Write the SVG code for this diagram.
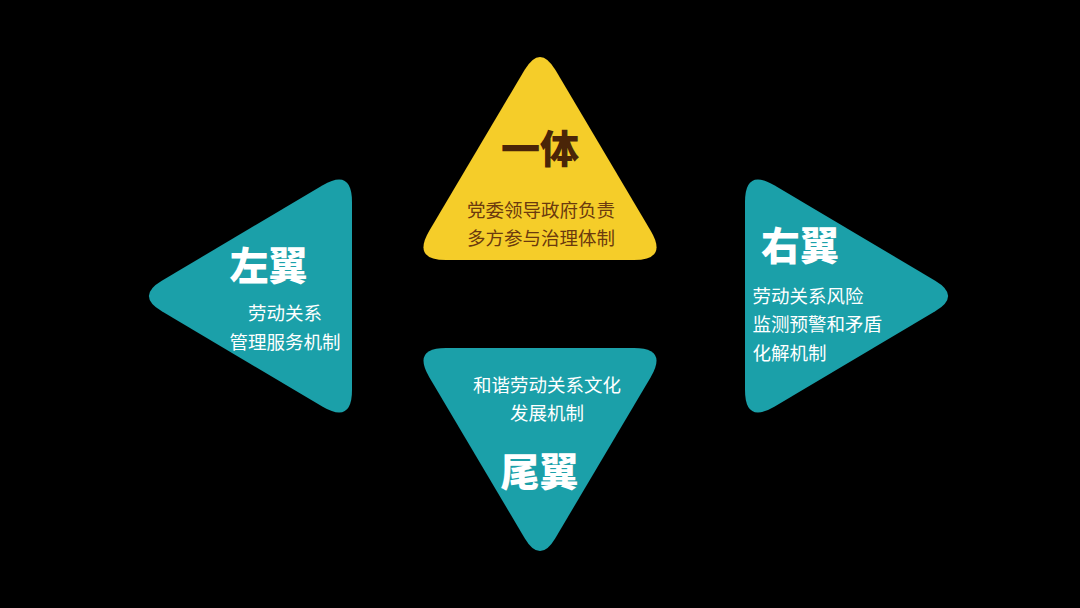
<svg xmlns="http://www.w3.org/2000/svg" width="1080" height="608" viewBox="0 0 1080 608">
<style>
.teal{fill:#1BA0A9}
.yellow{fill:#F5CD29}
.title{font-family:"Noto Sans CJK SC","Noto Sans",sans-serif;font-weight:900;font-size:39px}
.body{font-family:"Noto Sans CJK SC","Noto Sans",sans-serif;font-size:18.5px}
.w{fill:#FFFFFF}
</style>
<rect width="1080" height="608" fill="#000000"/>
<g id="connectors"></g>
<g id="node-top">
<path class="yellow" d="M524.7,69.8 Q540,44 555.3,69.8 L650.7,230.7 Q668,260 634,260 L446,260 Q412,260 429.3,230.7 Z"/>
<text class="title" x="540" y="163" text-anchor="middle" fill="#4A2508">一体</text>
<text class="body" x="541" y="217" text-anchor="middle" fill="#6B3A0E">党委领导政府负责</text>
<text class="body" x="541" y="245" text-anchor="middle" fill="#6B3A0E">多方参与治理体制</text>
</g>
<g id="node-left">
<path class="teal" d="M352,202 L352,390 Q352,424 322.7,406.7 L161.8,311.3 Q136,296 161.8,280.7 L322.7,185.3 Q352,168 352,202 Z"/>
<text class="title w" x="268.5" y="280" text-anchor="middle">左翼</text>
<text class="body w" x="285" y="320" text-anchor="middle">劳动关系</text>
<text class="body w" x="285" y="349" text-anchor="middle">管理服务机制</text>
</g>
<g id="node-right">
<path class="teal" d="M745,202 Q745,168 774.3,185.3 L935.2,280.7 Q961,296 935.2,311.3 L774.3,406.7 Q745,424 745,390 Z"/>
<text class="title w" x="800" y="260" text-anchor="middle">右翼</text>
<text class="body w" x="752.5" y="303">劳动关系风险</text>
<text class="body w" x="752.5" y="331">监测预警和矛盾</text>
<text class="body w" x="752.5" y="360">化解机制</text>
</g>
<g id="node-bottom">
<path class="teal" d="M524.7,538.2 Q540,564 555.3,538.2 L650.7,377.3 Q668,348 634,348 L446,348 Q412,348 429.3,377.3 Z"/>
<text class="body w" x="547" y="392" text-anchor="middle">和谐劳动关系文化</text>
<text class="body w" x="547" y="420" text-anchor="middle">发展机制</text>
<text class="title w" x="539.5" y="486" text-anchor="middle">尾翼</text>
</g>
</svg>
